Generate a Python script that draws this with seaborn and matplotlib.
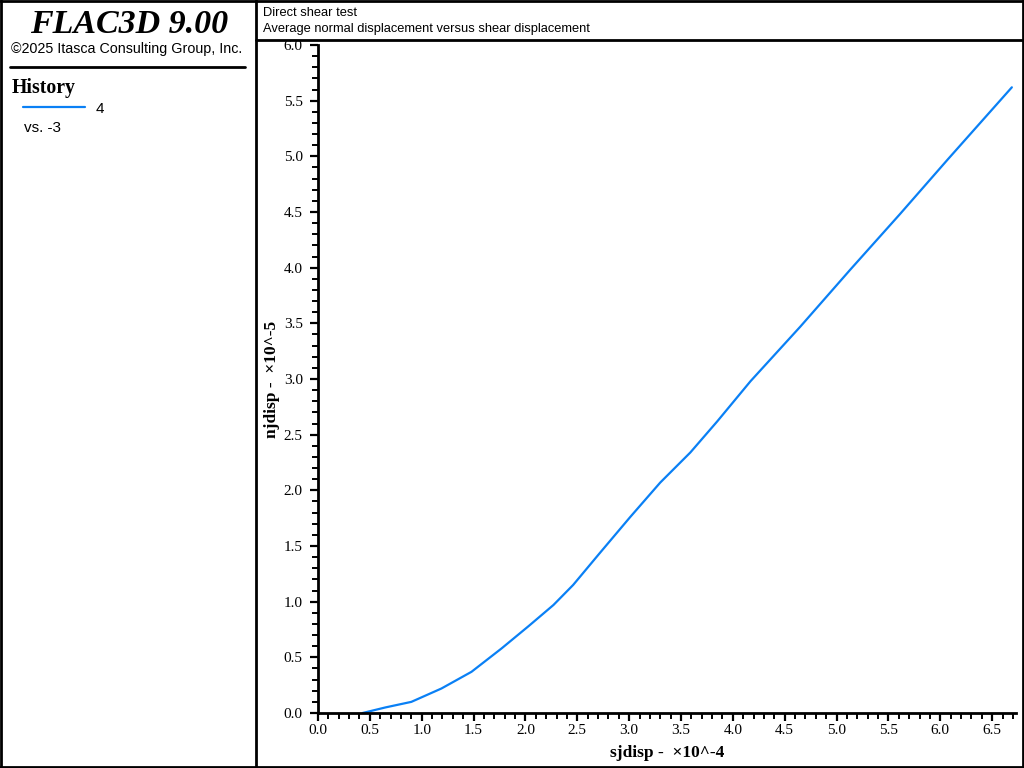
import numpy as np
import pandas as pd
import matplotlib
matplotlib.use("Agg")
import matplotlib.pyplot as plt
import seaborn as sns
from matplotlib.lines import Line2D
from matplotlib.ticker import MultipleLocator, FormatStrFormatter

# history 4 vs -3 (sjdisp x1e-4, njdisp x1e-5)
sjdisp = [0.43, 0.65, 0.90, 1.19, 1.48, 1.77, 2.03, 2.27, 2.46, 2.72,
          3.01, 3.30, 3.59, 3.85, 4.17, 4.65, 5.13, 5.61, 6.07, 6.69]
njdisp = [0.00, 0.05, 0.10, 0.22, 0.37, 0.58, 0.78, 0.97, 1.15, 1.44,
          1.76, 2.07, 2.34, 2.62, 2.98, 3.47, 3.98, 4.48, 4.97, 5.62]

title_lines = ["Direct shear test",
               "Average normal displacement versus shear displacement"]
xlabel = "sjdisp -  \u00d710^-4"
ylabel = "njdisp -  \u00d710^-5"
blue = "#0A80F5"
sans = ["Liberation Sans", "DejaVu Sans"]

sns.set_style("white")
plt.rcParams['font.family'] = ['Liberation Serif', 'DejaVu Serif']
for key in ['text.color', 'axes.labelcolor', 'xtick.color', 'ytick.color']:
    plt.rcParams[key] = 'black'

W, H = 1024, 768
fig = plt.figure(figsize=(W / 100, H / 100), dpi=100)


def fx(px):
    return px / W


def fy(py):
    return 1 - py / H


# frame lines
def hline(x0, x1, y, lw=2.0):
    fig.add_artist(Line2D([fx(x0), fx(x1)], [fy(y), fy(y)], color="black", lw=lw,
                          transform=fig.transFigure))


def vline(x, y0, y1, lw=2.0):
    fig.add_artist(Line2D([fx(x), fx(x)], [fy(y0), fy(y1)], color="black", lw=lw,
                          transform=fig.transFigure))


hline(0, W, 1)
hline(0, W, H - 1)
vline(1, 0, H)
vline(W - 1, 0, H)
vline(256, 0, H)
hline(256, W, 40)
hline(10, 245, 67)

# left panel
fig.text(fx(129), fy(33), "FLAC3D 9.00", ha="center", va="baseline",
         fontsize=24.5, fontstyle="italic", fontweight="bold")
fig.text(fx(127), fy(49), "\u00a92025 Itasca Consulting Group, Inc.", ha="center",
         va="center", fontsize=10.3, family=sans)
fig.text(fx(12), fy(88), "History", ha="left", va="center", fontsize=14.2,
         fontweight="bold")
fig.add_artist(Line2D([fx(23), fx(85)], [fy(107), fy(107)], color=blue, lw=1.6,
                      transform=fig.transFigure))
fig.text(fx(96), fy(109), "4", ha="left", va="center", fontsize=11, family=sans)
fig.text(fx(24), fy(128), "vs. -3", ha="left", va="center", fontsize=11, family=sans)

# title box
fig.text(fx(263), fy(13), title_lines[0], ha="left", va="center", fontsize=9.3,
         family=sans)
fig.text(fx(263), fy(29), title_lines[1], ha="left", va="center", fontsize=9.3,
         family=sans)

# plot area
ax = fig.add_axes([fx(318), fy(713), (1016 - 318) / W, (713 - 45) / H])
df = pd.DataFrame({"x": sjdisp, "y": njdisp})
sns.lineplot(data=df, x="x", y="y", ax=ax, color=blue, lw=1.6, sort=False)

ax.set_xlim(0, 6.73)
ax.set_ylim(0, 6.0)
for s in ["top", "right"]:
    ax.spines[s].set_visible(False)
for s in ["left", "bottom"]:
    ax.spines[s].set_linewidth(2.0)
    ax.spines[s].set_color("black")

ax.xaxis.set_major_locator(MultipleLocator(0.5))
ax.xaxis.set_minor_locator(MultipleLocator(0.1))
ax.yaxis.set_major_locator(MultipleLocator(0.5))
ax.yaxis.set_minor_locator(MultipleLocator(0.1))
ax.xaxis.set_major_formatter(FormatStrFormatter("%.1f"))
ax.yaxis.set_major_formatter(FormatStrFormatter("%.1f"))
ax.tick_params(which="major", direction="out", length=6, width=1.6, labelsize=11,
               pad=2, color="black", labelcolor="black", bottom=True, left=True)
ax.tick_params(axis="y", which="major", pad=5)
ax.tick_params(which="minor", direction="out", length=4, width=1.4, color="black",
               bottom=True, left=True)

ax.set_xlabel(xlabel, fontsize=12.5, fontweight="bold", labelpad=6, color="black")
ax.set_ylabel(ylabel, fontsize=12.5, fontweight="bold", labelpad=3, color="black")

fig.savefig("out.png", dpi=100)
